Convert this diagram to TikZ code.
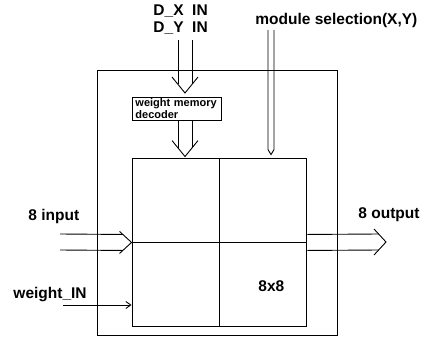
\documentclass[tikz,border=0pt]{standalone}
\usepackage{fontspec}
\setmainfont{Liberation Sans}
\usetikzlibrary{arrows.meta,positioning,calc}

\begin{document}
\begin{tikzpicture}[x=1pt,y=-1pt,line width=0.9pt,
  font=\fontsize{15.5}{17}\selectfont\bfseries,
  lab/.style={anchor=base west,inner sep=0pt},
  cell/.style={draw,minimum width=87pt,minimum height=84pt,inner sep=0pt}]
  \useasboundingbox (0,0) rectangle (428,338);
  \node[draw,minimum width=240pt,minimum height=265pt] (chip) at (217,202.5) {};
  \node[cell] (c11) at (175.5,200) {};
  \node[cell,right=0pt of c11] (c12) {};
  \node[cell,below=0pt of c11] (c21) {};
  \node[cell,right=0pt of c21] (c22) {};
  \node[lab] (sz) at (258,291) {8x8};
  \node[draw,anchor=north west,text width=83pt,inner xsep=3pt,inner ysep=1.5pt,
    align=left,font=\fontsize{11}{12}\selectfont\bfseries] (dec) at (132,97)
    {weight memory\\decoder};
  \node[lab] (dx) at (153,15) {D\_X\ \ IN};
  \node[lab] (dy) at (153,32) {D\_Y\ \ IN};
  \node[lab] (msl) at (255,24) {module selection(X,Y)};
  \node[lab] (inl) at (28,220) {8 input};
  \node[lab] (wl) at (13,298) {weight\_IN};
  \node[lab] (outl) at (358,218) {8 output};

  \coordinate (dbus) at (185,40);
  \coordinate (t1) at ($(dbus |- dec.north)+(0,-4)$);
  \draw ($(dbus)+(-7,0)$) -- ($(t1)+(-7,-8.6)$) ($(dbus)+(7,0)$) -- ($(t1)+(7,-8.6)$);
  \draw ($(t1)+(-13,-16)$) -- (t1) -- ($(t1)+(13,-16)$);
  \coordinate (t2) at ($(dbus |- c11.north)+(0,-1)$);
  \draw ($(dbus |- dec.south)+(-7,0)$) -- ($(t2)+(-7,-8.6)$)
        ($(dbus |- dec.south)+(7,0)$) -- ($(t2)+(7,-8.6)$);
  \draw ($(t2)+(-13,-16)$) -- (t2) -- ($(t2)+(13,-16)$);

  \coordinate (msel) at (271,30);
  \coordinate (t3) at ($(msel |- c12.north)+(0,-3)$);
  \draw ($(msel)+(-3,0)$) -- ($(t3)+(-3,-5)$) -- (t3) -- ($(t3)+(3,-5)$) -- ($(msel)+(3,0)$);

  \coordinate (ibus) at (60,242);
  \coordinate (t4) at (c11.south west);
  \draw ($(ibus)+(0,-8)$) -- ($(t4)+(-8.7,-8)$) ($(ibus)+(0,8)$) -- ($(t4)+(-8.7,8)$);
  \draw ($(t4)+(-12,-11)$) -- (t4) -- ($(t4)+(-12,11)$);

  \coordinate (obus) at (386,242);
  \draw ($(c12.south east)+(0,-8)$) -- ($(obus)+(-7.4,-8)$)
        ($(c12.south east)+(0,8)$) -- ($(obus)+(-7.4,8)$);
  \draw ($(obus)+(-12,-13)$) -- (obus) -- ($(obus)+(-12,13)$);

  \coordinate (wsrc) at (63,305);
  \draw[-{Straight Barb[length=5pt,width=7pt]}] (wsrc) -- (wsrc -| c21.west);
\end{tikzpicture}
\end{document}
